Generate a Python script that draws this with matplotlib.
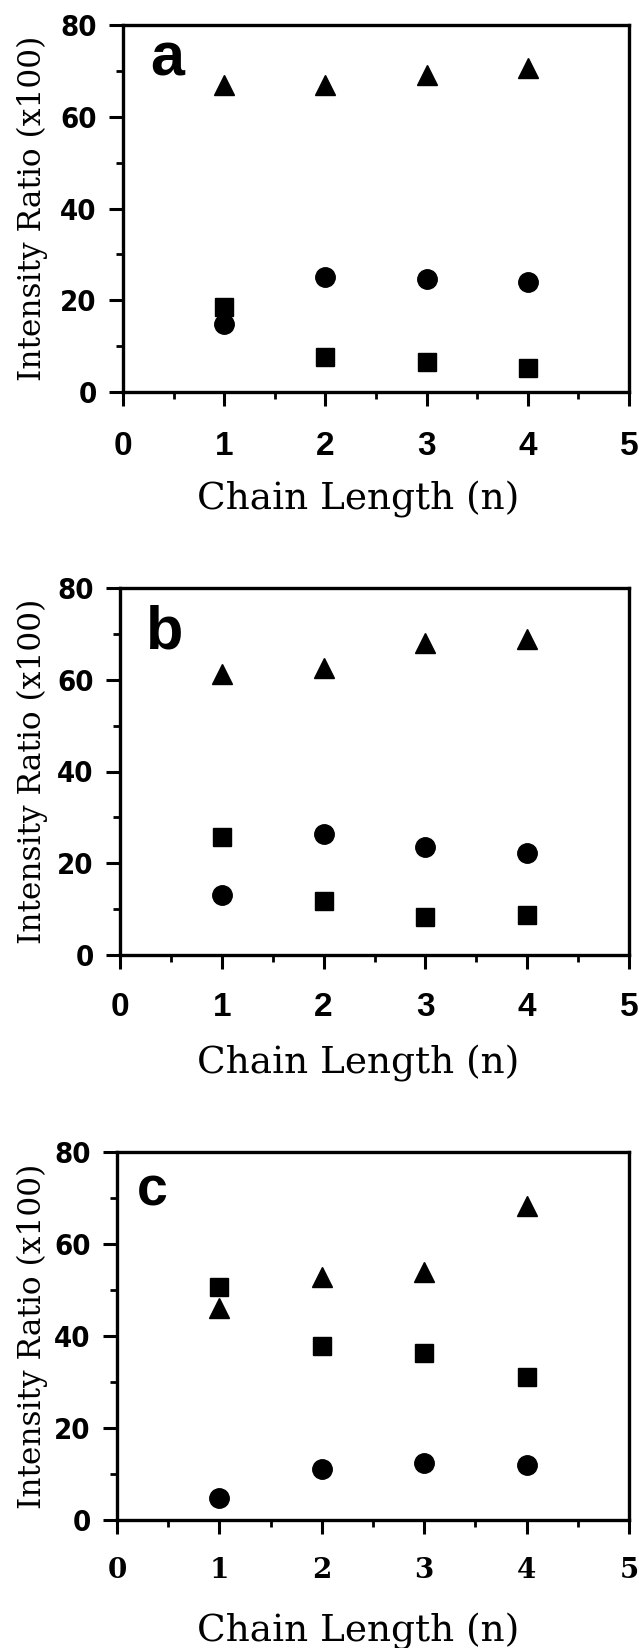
import matplotlib
matplotlib.use("Agg")
import matplotlib.pyplot as plt
from matplotlib.ticker import MultipleLocator

# Chain length n
chain = [1, 2, 3, 4]

# panel a
a_triangle = [66.9, 66.9, 69.0, 70.7]
a_circle = [14.8, 25.1, 24.7, 24.0]
a_square = [18.5, 7.6, 6.5, 5.2]

# panel b
b_triangle = [61.3, 62.6, 68.1, 68.8]
b_circle = [13.1, 26.4, 23.5, 22.2]
b_square = [25.7, 11.7, 8.3, 8.7]

# panel c
c_triangle = [46.0, 52.9, 54.0, 68.3]
c_circle = [4.8, 11.1, 12.4, 12.0]
c_square = [50.6, 37.9, 36.3, 31.0]

W, H = 639, 1648
fig = plt.figure(figsize=(W / 100, H / 100), dpi=100)

sans = ['Liberation Sans', 'DejaVu Sans']
serif = ['DejaVu Serif']

# (left, top, right, bottom) in pixels, letter pos, xlabel y, serif ticks?, x pad
panels = [
    ("a", 123, 25, 629, 392, a_triangle, a_circle, a_square, (167, 60), 44, 500, False, 18),
    ("b", 120, 588, 629, 955, b_triangle, b_circle, b_square, (165, 633), 44, 1063, False, 16.5),
    ("c", 117, 1152, 629, 1520, c_triangle, c_circle, c_square, (152, 1192), 40, 1631, True, 16.5),
]

for (letter, l, t, r, b, tri, circ, sq, lpos, lsize, xly, serif_ticks, xpad) in panels:
    ax = fig.add_axes([l / W, 1 - b / H, (r - l) / W, (b - t) / H])
    ax.plot(chain, tri, linestyle='none', marker='^', color='black', markersize=14)
    ax.plot(chain, circ, linestyle='none', marker='o', color='black', markersize=14)
    ax.plot(chain, sq, linestyle='none', marker='s', color='black', markersize=13.5)

    ax.set_xlim(0, 5)
    ax.set_ylim(0, 80)
    ax.xaxis.set_major_locator(MultipleLocator(1))
    ax.xaxis.set_minor_locator(MultipleLocator(0.5))
    ax.yaxis.set_major_locator(MultipleLocator(20))
    ax.yaxis.set_minor_locator(MultipleLocator(10))
    ax.tick_params(which='major', direction='out', length=10, width=2.2)
    ax.tick_params(which='minor', direction='out', length=5, width=2.0)
    ax.tick_params(axis='y', pad=9)
    ax.tick_params(axis='x', pad=xpad)
    for s in ax.spines.values():
        s.set_linewidth(2.4)

    for lab in ax.get_yticklabels():
        lab.set_family(['DejaVu Sans'])
        lab.set_fontstretch('condensed')
        lab.set_fontweight('bold')
        lab.set_fontsize(21)
    for lab in ax.get_xticklabels():
        if serif_ticks:
            lab.set_family(serif)
            lab.set_fontweight('bold')
            lab.set_fontsize(20)
        else:
            lab.set_family(sans)
            lab.set_fontweight('bold')
            lab.set_fontsize(24)

    fig.text(lpos[0] / W, 1 - lpos[1] / H, letter, ha='center', va='center',
             fontsize=lsize, fontweight='bold', family=sans)

    fig.text(32 / W, 1 - (t + b) / 2 / H, "Intensity Ratio (x100)", rotation=90,
             ha='center', va='center', fontsize=22.5, family=serif)
    fig.text(358 / W, 1 - xly / H, "Chain Length (n)", ha='center', va='center',
             fontsize=27, family=serif)

fig.savefig("out.png", dpi=100)
